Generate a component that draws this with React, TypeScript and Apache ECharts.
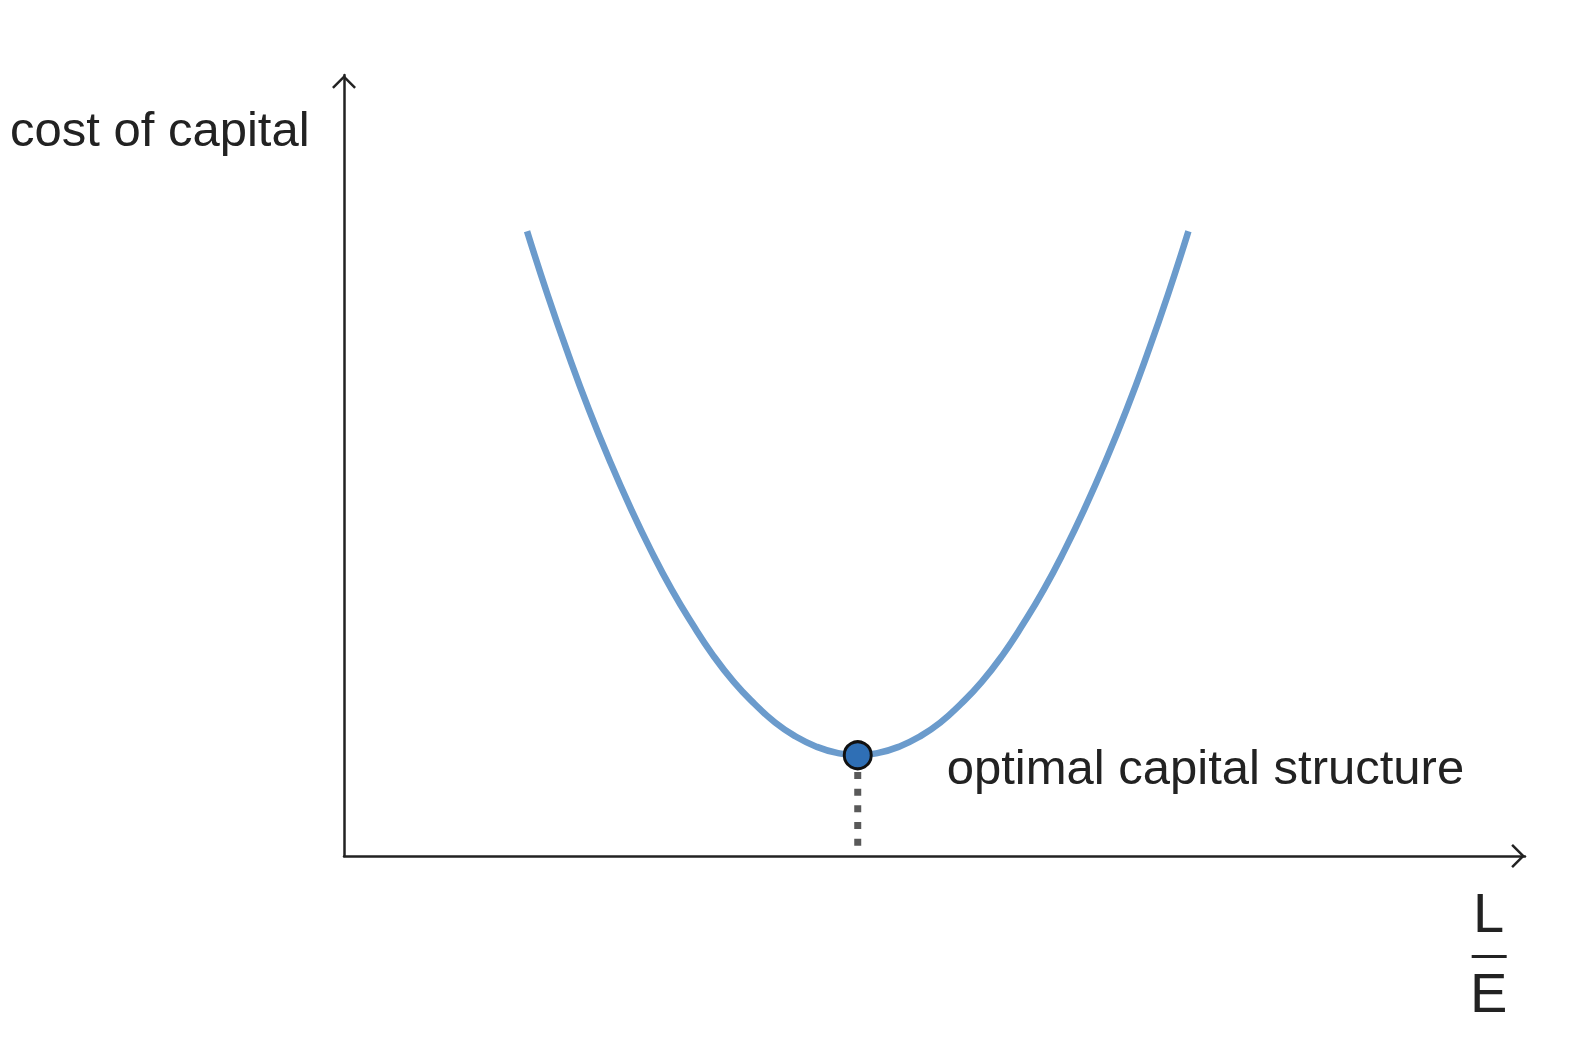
import { useEffect, useRef } from 'react'
import * as echarts from 'echarts'

// Curve: x = L/E, y = cost of capital (both axes run 0..10)
const leverage = [
  1.55, 1.725, 1.9, 2.075, 2.25, 2.425, 2.6, 2.775, 2.95, 3.125, 3.3, 3.475, 3.65, 3.825, 4.0, 4.175,
  4.35,
  4.525, 4.7, 4.875, 5.05, 5.225, 5.4, 5.575, 5.75, 5.925, 6.1, 6.275, 6.45, 6.625, 6.8, 6.975, 7.15
]
const costOfCapital = [
  8.0, 7.18, 6.42, 5.71, 5.06, 4.46, 3.91, 3.41, 2.97, 2.57, 2.23, 1.95, 1.71, 1.53, 1.4, 1.32,
  1.29,
  1.32, 1.4, 1.53, 1.71, 1.95, 2.23, 2.57, 2.97, 3.41, 3.91, 4.46, 5.06, 5.71, 6.42, 7.18, 8.0
]
const optimum = [4.35, 1.29]
const axisRange = [0, 10]

const yTitle = 'cost of capital'
const optimumLabel = 'optimal capital structure'
const xTitleTop = 'L'
const xTitleBottom = 'E'

const FONT = '"Liberation Sans", Arial, Helvetica, sans-serif'
const INK = '#222222'

// open chevron used as arrow head on both axes (tip at the top)
const ARROW = 'path://M0,12 L12,0 L24,12 L22.23,13.77 L12,3.54 L1.77,13.77 Z'

const App = () => {
  const chartRef = useRef<HTMLDivElement | null>(null)

  useEffect(() => {
    if (!chartRef.current) return
    const chart = echarts.init(chartRef.current, null, { renderer: 'svg' })

    const curve = leverage.map((x, i) => [x, costOfCapital[i]])

    const axisLine = {
      show: true,
      onZero: false,
      symbol: ['none', ARROW],
      symbolSize: [24, 13.77],
      symbolOffset: [0, -6.9],
      lineStyle: { color: INK, width: 2.5 }
    }

    const option = {
      animation: false,
      backgroundColor: '#ffffff',
      grid: { left: 344, right: 51, top: 75, bottom: 198 },
      xAxis: {
        type: 'value',
        min: axisRange[0],
        max: axisRange[1],
        axisLine,
        axisTick: { show: false },
        axisLabel: { show: false },
        splitLine: { show: false }
      },
      yAxis: {
        type: 'value',
        min: axisRange[0],
        max: axisRange[1],
        axisLine,
        axisTick: { show: false },
        axisLabel: { show: false },
        splitLine: { show: false }
      },
      series: [
        {
          // dotted drop line from the optimum to the x axis
          type: 'line',
          data: [optimum, [optimum[0], axisRange[0]]],
          showSymbol: false,
          lineStyle: { color: '#595959', width: 7, type: [7, 9.7] },
          z: 1
        },
        {
          type: 'line',
          data: curve,
          smooth: 0.5,
          showSymbol: false,
          lineStyle: { color: '#6b9bcc', width: 6.5 },
          z: 2
        },
        {
          type: 'scatter',
          data: [optimum],
          symbolSize: 27,
          itemStyle: { color: '#2f6fb5', borderColor: '#111111', borderWidth: 3, opacity: 1 },
          label: {
            show: true,
            position: 'right',
            distance: 74,
            offset: [0, 12],
            formatter: optimumLabel,
            fontSize: 49,
            fontFamily: FONT,
            color: INK
          },
          z: 3
        }
      ],
      graphic: [
        {
          type: 'text',
          left: 10,
          top: 104,
          style: { text: yTitle, fontSize: 49, fontFamily: FONT, fill: INK }
        },
        {
          type: 'group',
          left: 1470,
          top: 884,
          children: [
            {
              type: 'text',
              x: 21,
              y: 0,
              style: { text: xTitleTop, fontSize: 56, fontFamily: FONT, fill: INK, align: 'center' }
            },
            {
              type: 'rect',
              shape: { x: 4, y: 71, width: 35, height: 3 },
              style: { fill: INK }
            },
            {
              type: 'text',
              x: 21,
              y: 80,
              style: { text: xTitleBottom, fontSize: 56, fontFamily: FONT, fill: INK, align: 'center' }
            }
          ]
        }
      ]
    }

    chart.setOption(option)

    const handleResize = () => chart.resize()
    window.addEventListener('resize', handleResize)

    return () => {
      window.removeEventListener('resize', handleResize)
      chart.dispose()
    }
  }, [])

  return (
    <div
      ref={chartRef}
      style={{ position: 'fixed', left: 0, top: 0, width: '100vw', height: '100vh', background: '#fff' }}
    />
  )
}

export default App
